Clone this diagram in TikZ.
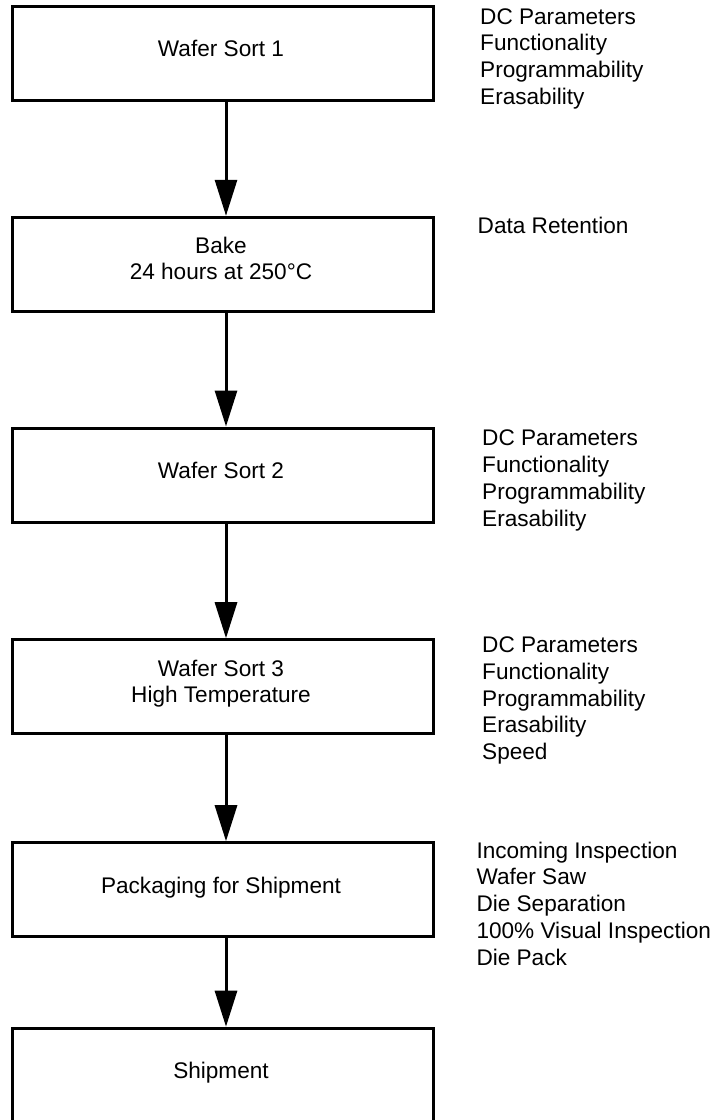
\documentclass[tikz,border=0pt]{standalone}
\usepackage{fontspec}
\setmainfont{Liberation Sans}
\usetikzlibrary{arrows.meta}
\begin{document}
\begin{tikzpicture}[x=1pt,y=-1pt,
  box/.style={draw=black,line width=3pt,minimum width=421pt,minimum height=94pt,inner sep=0pt},
  boxlabel/.style={anchor=north,inner sep=0pt,align=center,font=\fontsize{22.6pt}{26pt}\selectfont},
  note/.style={anchor=north west,inner sep=0pt,align=left,font=\fontsize{22.6pt}{26.7pt}\selectfont},
  flow/.style={draw=black,line width=3pt,-{Triangle[length=36pt,width=22pt]}}]
\useasboundingbox (0,0) rectangle (722,1120);
\fill[white] (0,0) rectangle (722,1120);

% boxes
\node[box] (b1) at (222.8,53.5) {};
\node[box] (b2) at (222.8,264.3) {};
\node[box] (b3) at (222.8,475) {};
\node[box] (b4) at (222.8,686.7) {};
\node[box] (b5) at (222.8,889.7) {};
\node[box] (b6) at (222.8,1075.2) {};

% box labels
\node[boxlabel] (l1) at (221,39.8) {Wafer Sort 1};
\node[boxlabel] (l2) at (221,236.5) {Bake\\24 hours at 250°C};
\node[boxlabel] (l3) at (221,461.7) {Wafer Sort 2};
\node[boxlabel] (l4) at (221,660) {Wafer Sort 3\\High Temperature};
\node[boxlabel] (l5) at (221,876.7) {Packaging for Shipment};
\node[boxlabel] (l6) at (221,1061.7) {Shipment};

% arrows
\coordinate (ax) at (226,0);
\draw[flow] (ax |- b1.south) -- (ax |- b2.north);
\draw[flow] (ax |- b2.south) -- (ax |- b3.north);
\draw[flow] (ax |- b3.south) -- (ax |- b4.north);
\draw[flow] (ax |- b4.south) -- (ax |- b5.north);
\draw[flow] (ax |- b5.south) -- (ax |- b6.north);

% side notes
\node[note] (r1) at (480,8.3) {DC Parameters\\Functionality\\Programmability\\Erasability};
\node[note] (r2) at (477.5,216.7) {Data Retention};
\node[note] (r3) at (482,430) {DC Parameters\\Functionality\\Programmability\\Erasability};
\node[note] (r4) at (482,636.7) {DC Parameters\\Functionality\\Programmability\\Erasability\\Speed};
\node[note] (r5) at (476.3,841.7) {Incoming Inspection\\Wafer Saw\\Die Separation\\100\% Visual Inspection\\Die Pack};
\end{tikzpicture}
\end{document}
